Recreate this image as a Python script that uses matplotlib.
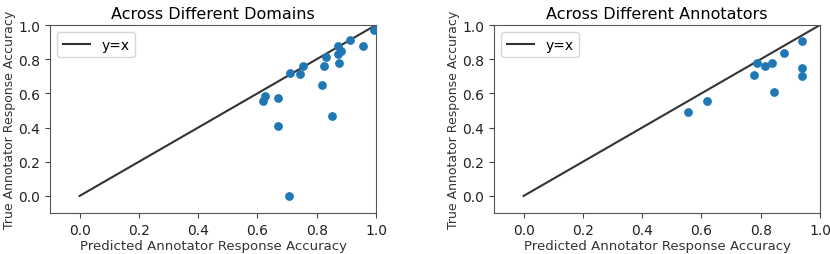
import matplotlib
matplotlib.use("Agg")
import matplotlib.pyplot as plt
import numpy as np

dom_x = [0.992, 0.913, 0.957, 0.873, 0.882, 0.873, 0.874, 0.830, 0.824, 0.753,
         0.711, 0.744, 0.818, 0.625, 0.619, 0.671, 0.671, 0.853, 0.706]
dom_y = [0.971, 0.914, 0.875, 0.879, 0.846, 0.830, 0.776, 0.815, 0.758, 0.758,
         0.721, 0.715, 0.647, 0.583, 0.554, 0.575, 0.409, 0.470, 0.0]

ann_x = [0.940, 0.880, 0.787, 0.778, 0.813, 0.839, 0.940, 0.940, 0.845, 0.620, 0.553]
ann_y = [0.907, 0.837, 0.776, 0.708, 0.759, 0.780, 0.749, 0.702, 0.609, 0.558, 0.492]

titles = ["Across Different Domains", "Across Different Annotators"]
xlabel = "Predicted Annotator Response Accuracy"
ylabel = "True Annotator Response Accuracy"

fig = plt.figure(figsize=(8.3, 2.55), dpi=100)
W, H = 830, 255
boxes = [(50, 26, 376, 214), (494, 26, 820, 214)]
data = [(dom_x, dom_y), (ann_x, ann_y)]
for (l, t, r, b), (xs, ys), title in zip(boxes, data, titles):
    ax = fig.add_axes([l / W, 1 - b / H, (r - l) / W, (b - t) / H])
    ax.plot([0, 1], [0, 1], color="#333333", lw=1.5, label="y=x")
    ax.scatter(xs, ys, s=28, color="#1f77b4", zorder=3)
    ax.set_xlim(-0.1, 1.0)
    ax.set_ylim(-0.1, 1.0)
    ax.set_xticks([0.0, 0.2, 0.4, 0.6, 0.8, 1.0])
    ax.set_yticks([0.0, 0.2, 0.4, 0.6, 0.8, 1.0])
    ax.tick_params(labelsize=10, colors="#444444", labelcolor="#222222")
    for s in ax.spines.values():
        s.set_color("#555555")
    ax.set_title(title, fontsize=11.5, pad=5)
    ax.set_xlabel(xlabel, fontsize=9.5, color="#333333", labelpad=1.5)
    ax.set_ylabel(ylabel, fontsize=9, color="#333333", labelpad=2)
    ax.legend(loc="upper left", fontsize=10)

fig.savefig("out.png", dpi=100)
